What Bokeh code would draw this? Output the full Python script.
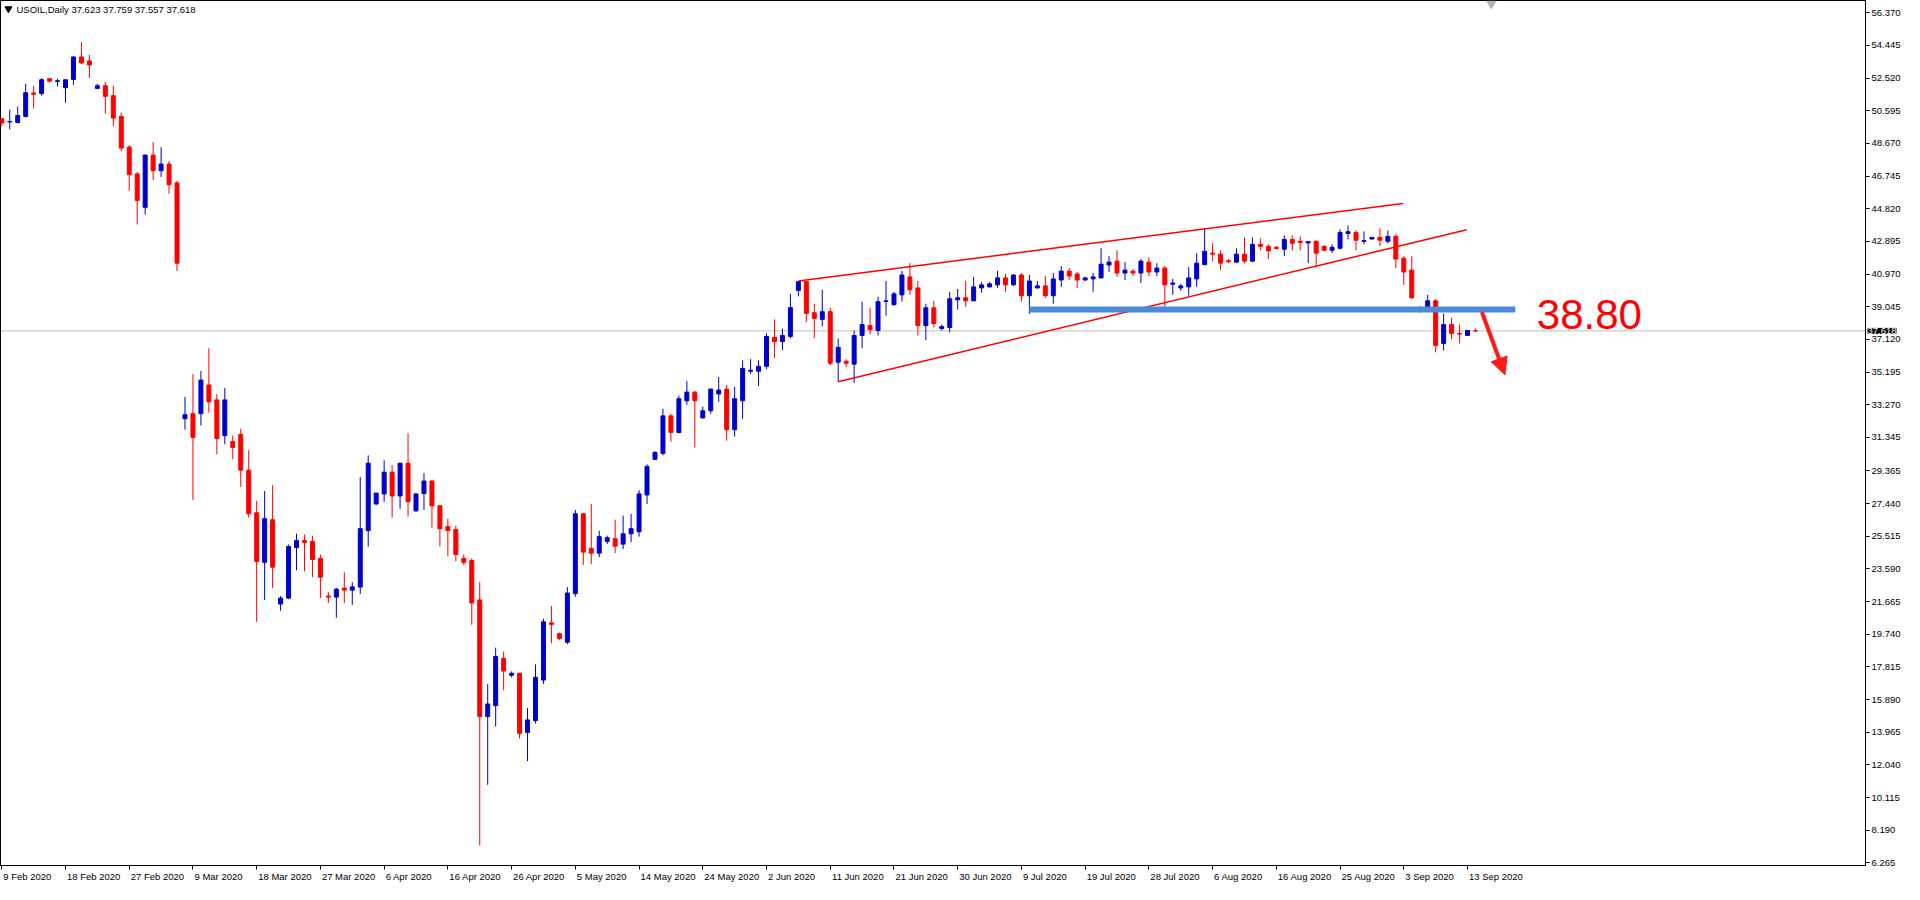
from bokeh.plotting import figure
from bokeh.models import (FixedTicker, PrintfTickFormatter, Label, Span, Arrow,
                          NormalHead, ColumnDataSource, Range1d, LinearAxis)
from bokeh.embed import file_html
from bokeh.resources import INLINE

# ---------------- data ----------------
symbol = "USOIL,Daily"

opens = [50.12, 49.93, 49.90, 50.26, 51.64, 51.60, 52.48, 52.32, 51.95, 52.44,
         53.76, 53.53, 51.91, 52.07, 51.48, 50.26, 48.45, 46.87, 44.90, 47.98,
         47.06, 47.45, 46.34, 32.44, 32.74, 32.74, 34.43, 33.55, 31.45, 31.10,
         31.51, 29.41, 26.90, 23.98, 26.49, 21.52, 21.87, 24.85, 25.26, 25.20,
         24.21, 21.99, 21.93, 22.46, 22.34, 22.52, 25.85, 27.42, 28.01, 29.29,
         27.89, 29.82, 27.01, 28.03, 28.77, 27.31, 26.08, 25.91, 24.21, 24.09,
         21.76, 14.89, 15.53, 18.31, 17.32, 17.44, 13.95, 14.65, 17.04, 20.41,
         19.77, 19.27, 22.13, 26.84, 24.80, 24.52, 25.21, 25.37, 25.05, 25.66,
         25.78, 27.95, 30.05, 30.40, 32.61, 31.63, 33.50, 34.01, 32.49, 32.91,
         33.90, 34.19, 31.80, 33.50, 35.24, 35.24, 35.53, 37.23, 36.99, 37.29,
         40.00, 40.52, 38.69, 38.30, 38.75, 35.77, 35.83, 35.66, 37.35, 37.93,
         37.64, 39.35, 39.16, 39.74, 40.80, 40.15, 37.93, 38.98, 37.76, 37.82,
         39.45, 39.57, 39.39, 40.15, 40.21, 40.33, 40.74, 40.33, 40.91, 39.69,
         40.15, 40.27, 39.69, 40.62, 41.14, 40.97, 40.62, 40.68, 40.74, 41.50,
         41.73, 41.03, 41.14, 41.03, 41.67, 41.09, 41.32, 40.37, 40.15, 40.21,
         40.68, 41.52, 42.20, 42.14, 41.75, 41.67, 42.14, 41.73, 42.72, 42.60,
         42.55, 42.43, 43.01, 42.90, 42.80, 42.90, 42.60, 42.37, 42.49, 43.36,
         43.42, 42.90, 43.03, 43.13, 42.90, 43.19, 41.90, 41.20, 38.93, 38.93,
         39.39, 36.88, 37.99, 37.47, 37.35, 37.623]

highs = [50.16, 50.66, 50.84, 52.18, 52.07, 52.53, 52.50, 52.48, 52.43, 53.82,
         54.64, 53.88, 52.18, 52.30, 52.07, 50.49, 48.56, 46.98, 48.00, 48.74,
         48.45, 47.63, 46.46, 33.73, 35.07, 35.25, 36.59, 33.90, 34.26, 31.45,
         31.86, 30.58, 27.60, 28.18, 28.53, 21.99, 25.03, 25.67, 25.61, 25.55,
         24.44, 22.22, 22.46, 23.39, 22.81, 29.00, 30.28, 28.07, 29.99, 29.70,
         29.83, 31.57, 28.02, 29.23, 28.82, 27.36, 26.55, 26.14, 24.44, 24.21,
         22.81, 16.80, 18.95, 18.72, 17.55, 17.45, 15.39, 17.96, 20.65, 21.41,
         19.83, 22.52, 27.07, 26.85, 27.42, 25.84, 25.55, 26.49, 26.73, 26.83,
         28.23, 29.75, 30.52, 33.03, 32.73, 33.80, 34.67, 34.07, 33.15, 34.20,
         34.90, 34.43, 34.31, 35.89, 35.95, 35.89, 37.47, 38.30, 37.76, 39.80,
         40.53, 40.55, 39.22, 40.04, 38.98, 37.17, 35.95, 37.64, 39.34, 38.98,
         39.63, 40.56, 39.92, 41.15, 41.61, 40.56, 39.22, 39.39, 37.99, 39.92,
         40.09, 40.56, 40.80, 40.50, 40.50, 41.15, 40.97, 40.97, 41.03, 40.91,
         40.56, 40.85, 41.03, 41.44, 41.32, 41.09, 40.80, 41.03, 42.49, 42.02,
         42.37, 41.67, 41.26, 41.85, 41.96, 41.61, 41.44, 40.68, 40.39, 41.38,
         42.20, 43.66, 42.78, 42.37, 41.85, 42.49, 43.13, 43.13, 43.07, 42.72,
         42.60, 43.24, 43.24, 43.19, 42.90, 42.96, 42.66, 42.72, 43.60, 43.83,
         43.54, 43.48, 43.14, 43.66, 43.54, 43.31, 42.02, 42.02, 39.10, 39.74,
         39.51, 38.63, 38.40, 37.99, 37.66, 37.759]

lows = [49.69, 49.50, 49.85, 50.20, 50.72, 51.48, 52.26, 52.01, 51.07, 52.12,
        53.35, 52.53, 51.88, 50.43, 49.67, 48.21, 45.88, 43.89, 44.47, 46.52,
        46.69, 45.70, 41.15, 31.80, 27.65, 32.04, 32.80, 30.34, 30.93, 30.05,
        28.42, 26.61, 20.47, 21.76, 22.46, 21.12, 21.80, 23.51, 23.45, 23.10,
        21.87, 21.58, 20.71, 21.58, 21.47, 22.11, 24.91, 27.36, 27.54, 26.61,
        27.14, 26.67, 26.96, 27.07, 26.02, 24.91, 24.33, 24.04, 23.80, 20.30,
        7.30, 10.86, 14.30, 16.44, 17.20, 13.60, 12.26, 14.48, 16.81, 19.21,
        19.38, 19.15, 21.95, 23.82, 23.88, 24.28, 25.05, 24.52, 24.76, 25.17,
        25.49, 27.42, 30.00, 30.28, 31.09, 31.57, 33.26, 30.76, 32.45, 32.73,
        33.44, 31.15, 31.39, 32.43, 35.08, 34.37, 35.36, 36.01, 36.48, 37.17,
        39.65, 38.13, 37.19, 37.89, 35.60, 34.64, 35.48, 34.55, 36.59, 37.41,
        37.35, 38.52, 39.10, 39.34, 39.74, 37.35, 37.06, 37.82, 37.64, 37.52,
        38.87, 39.04, 39.37, 39.86, 40.19, 40.15, 39.92, 40.27, 39.34, 38.63,
        40.12, 39.57, 39.22, 40.21, 40.62, 40.15, 40.56, 39.92, 40.72, 41.09,
        40.80, 40.62, 40.85, 40.44, 40.85, 40.85, 38.81, 39.74, 39.98, 39.69,
        40.21, 41.50, 41.73, 41.20, 41.61, 41.61, 41.61, 41.67, 42.37, 41.85,
        42.43, 42.02, 42.37, 42.37, 41.61, 41.44, 42.31, 42.20, 42.43, 43.01,
        42.37, 42.72, 43.02, 42.60, 42.78, 41.32, 40.33, 39.51, 38.69, 38.92,
        36.36, 36.47, 37.12, 36.88, 37.33, 37.557]

closes = [49.87, 49.96, 50.31, 51.66, 51.56, 52.42, 52.34, 52.36, 52.42, 53.76,
          53.41, 53.29, 52.07, 51.44, 50.16, 48.39, 46.83, 45.31, 47.98, 47.06,
          47.45, 46.23, 41.61, 32.68, 31.34, 34.72, 33.44, 31.28, 33.55, 30.75,
          29.41, 26.84, 24.03, 26.55, 23.69, 21.87, 24.91, 25.26, 25.15, 24.15,
          23.10, 21.93, 22.40, 22.34, 22.53, 25.96, 29.82, 28.06, 29.29, 27.89,
          29.82, 27.55, 28.01, 28.77, 27.31, 25.96, 25.85, 24.44, 23.98, 21.58,
          14.89, 15.63, 18.43, 17.57, 17.44, 13.90, 14.69, 17.20, 20.47, 20.32,
          19.50, 22.17, 26.84, 24.58, 24.52, 25.49, 25.43, 24.93, 25.66, 25.96,
          28.01, 29.63, 30.46, 32.61, 31.63, 33.62, 34.01, 33.50, 32.91, 34.19,
          34.13, 31.80, 33.62, 35.41, 35.30, 35.53, 37.29, 36.99, 37.35, 38.99,
          40.52, 38.65, 38.36, 38.75, 35.71, 36.65, 35.71, 37.35, 37.99, 37.70,
          39.34, 39.39, 39.80, 40.91, 40.04, 37.93, 38.98, 38.05, 37.87, 39.51,
          39.57, 39.39, 40.21, 40.33, 40.39, 40.74, 40.33, 40.91, 39.69, 40.56,
          40.27, 39.69, 40.68, 41.14, 40.85, 40.62, 40.74, 40.80, 41.55, 41.67,
          41.03, 41.20, 41.03, 41.73, 41.09, 41.32, 40.33, 40.44, 40.27, 40.74,
          41.61, 42.31, 42.14, 41.61, 41.69, 42.14, 41.73, 42.72, 42.60, 42.33,
          42.47, 43.01, 42.78, 42.82, 42.88, 42.20, 42.37, 42.55, 43.42, 43.46,
          42.96, 42.94, 43.13, 42.96, 43.19, 41.85, 41.09, 39.57, 38.87, 39.39,
          36.76, 37.99, 37.47, 37.43, 37.64, 37.618]

date_labels = ["9 Feb 2020", "18 Feb 2020", "27 Feb 2020", "9 Mar 2020",
               "18 Mar 2020", "27 Mar 2020", "6 Apr 2020", "16 Apr 2020",
               "26 Apr 2020", "5 May 2020", "14 May 2020", "24 May 2020",
               "2 Jun 2020", "11 Jun 2020", "21 Jun 2020", "30 Jun 2020",
               "9 Jul 2020", "19 Jul 2020", "28 Jul 2020", "6 Aug 2020",
               "16 Aug 2020", "25 Aug 2020", "3 Sep 2020", "13 Sep 2020"]
bars_per_label = 8

price_ticks = [56.370, 54.445, 52.520, 50.595, 48.670, 46.745, 44.820, 42.895,
               40.970, 39.045, 37.120, 35.195, 33.270, 31.345, 29.365, 27.440,
               25.515, 23.590, 21.665, 19.740, 17.815, 15.890, 13.965, 12.040,
               10.115, 8.190, 6.265]

# drawn analysis (bar index, price)
upper_trend_x = [100.0, 175.9]
upper_trend_y = [40.56, 45.13]
lower_trend_x = [105.0, 183.9]
lower_trend_y = [34.62, 43.58]
support_x = [129.0, 190.0]
support_y = [38.88, 38.88]
support_text = "38.80"
arrow_x = [185.8, 188.7]
arrow_y = [38.73, 35.03]

# ---------------- figure ----------------
X0, X1 = -0.16, 233.96
Y0, Y1 = 6.11, 57.09
FRAME_W, FRAME_H = 1865, 865
FONT = "Liberation Sans"
FS = 9.5
BULL, BEAR = "#0000CD", "#FF0000"

p = figure(frame_width=FRAME_W, frame_height=FRAME_H,
           x_range=Range1d(X0, X1), y_range=Range1d(Y0, Y1),
           y_axis_location="right", output_backend="svg", toolbar_location=None,
           min_border_left=0, min_border_top=0, min_border_right=38,
           min_border_bottom=18, background_fill_color="white",
           border_fill_color="white", outline_line_color="black",
           outline_line_width=1)

p.xgrid.grid_line_color = None
p.ygrid.grid_line_color = None

p.yaxis.ticker = FixedTicker(ticks=price_ticks)
p.yaxis.formatter = PrintfTickFormatter(format="%.3f")
p.yaxis.major_tick_out = 4
p.yaxis.major_tick_in = 0
p.yaxis.minor_tick_out = 0
p.yaxis.minor_tick_in = 0
p.yaxis.major_label_standoff = 2
p.yaxis.major_label_text_font = FONT
p.yaxis.major_label_text_font_size = "%spx" % FS
p.yaxis.major_label_text_color = "black"
p.yaxis.axis_line_color = "black"

# x axis: tick marks at the labelled bars (its own texts are not drawn)
tick_idx = [k * bars_per_label for k in range(len(date_labels))]
p.xaxis.ticker = FixedTicker(ticks=tick_idx)
p.xaxis.major_tick_out = 4
p.xaxis.major_tick_in = 0
p.xaxis.minor_tick_out = 0
p.xaxis.minor_tick_in = 0
p.xaxis.major_label_text_font_size = "1px"
p.xaxis.major_label_text_color = None
p.xaxis.major_label_standoff = 0
p.xaxis.axis_line_color = "black"

# second x axis carrying the date texts, left-aligned at each tick
CHAR_W = {" ": 0.278, "F": 0.611, "M": 0.833, "A": 0.667, "J": 0.5,
          "S": 0.667, "e": 0.556, "b": 0.556, "a": 0.556, "r": 0.333,
          "p": 0.556, "y": 0.5, "u": 0.556, "n": 0.556, "l": 0.222,
          "g": 0.556}
px_per_bar = FRAME_W / (X1 - X0)


def text_px(s):
    return sum(CHAR_W.get(ch, 0.556) for ch in s) * FS


centers = [round(k + (text_px(lab) / 2 + 1.5) / px_per_bar, 4)
           for k, lab in zip(tick_idx, date_labels)]
date_axis = LinearAxis(ticker=FixedTicker(ticks=centers),
                       major_label_overrides={c: lab for c, lab in
                                              zip(centers, date_labels)},
                       major_tick_out=0, major_tick_in=0, minor_tick_out=0,
                       minor_tick_in=0, axis_line_color=None,
                       major_label_standoff=1,
                       major_label_text_font=FONT,
                       major_label_text_font_size="%spx" % FS,
                       major_label_text_color="black")
p.add_layout(date_axis, "below")

# current price line
p.add_layout(Span(location=closes[-1], dimension="width", line_color="#c0c0c0",
                  line_width=1, level="underlay"))

# candles
idx = list(range(len(opens)))
colors = [BULL if c >= o else BEAR for o, c in zip(opens, closes)]
src = ColumnDataSource(dict(
    x=idx,
    top=[max(o, c) for o, c in zip(opens, closes)],
    bottom=[min(o, c) for o, c in zip(opens, closes)],
    high=highs, low=lows, color=colors))
p.segment(x0="x", y0="low", x1="x", y1="high", line_color="color",
          line_width=1, source=src)
p.vbar(x="x", width=0.5, top="top", bottom="bottom", fill_color="color",
       line_color="color", line_width=1, source=src)

# channel lines
p.line(upper_trend_x, upper_trend_y, line_color="#FF0000", line_width=1.5)
p.line(lower_trend_x, lower_trend_y, line_color="#FF0000", line_width=1.5)

# support zone
p.line(support_x, support_y, line_color="#4A8ADB", line_width=6)
p.add_layout(Label(x=support_x[1] + 2.7, y=support_y[0] - 0.3, text=support_text,
                   text_color="#FF0000", text_font=FONT,
                   text_font_size="42px", text_align="left",
                   text_baseline="alphabetic"))

# arrow
p.add_layout(Arrow(end=NormalHead(size=17, fill_color="#FF1A1A",
                                  line_color="#FF1A1A"),
                   x_start=arrow_x[0], y_start=arrow_y[0],
                   x_end=arrow_x[1], y_end=arrow_y[1],
                   line_color="#FF1A1A", line_width=4))

# header
p.scatter(x=[0.84], y=[56.60], marker="inverted_triangle", size=7,
          color="black")
header = "%s %.3f %.3f %.3f %.3f" % (symbol, opens[-1], highs[-1], lows[-1],
                                      closes[-1])
p.add_layout(Label(x=1.85, y=56.86, text=header, text_color="black",
                   text_font=FONT, text_font_size="%spx" % FS,
                   text_align="left", text_baseline="top"))

# chart-shift marker at top
p.scatter(x=[187.0], y=[56.90], marker="inverted_triangle", size=9,
          color="#b4b4b4")

# current price box on the price axis
p.add_layout(Label(x=X1 + 0.25, y=closes[-1], text="%.3f" % closes[-1],
                   text_color="white", background_fill_color="black",
                   text_font=FONT, text_font_size="%spx" % FS,
                   text_align="left", text_baseline="middle"), "right")

open("out.html", "w").write(file_html(p, INLINE))
